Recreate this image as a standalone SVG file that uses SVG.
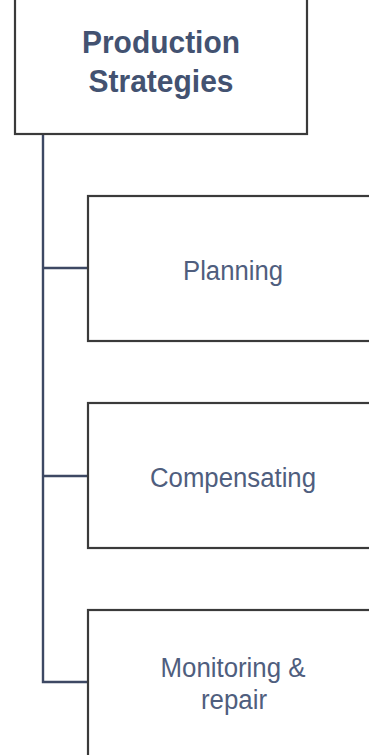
<svg xmlns="http://www.w3.org/2000/svg" width="369" height="755" viewBox="0 0 369 755">
<style>
.box{fill:#fff;stroke:#3a3a3a;stroke-width:2.2}
.conn{fill:none;stroke:#3d4863;stroke-width:2.4}
.t{font-family:"Liberation Sans",Arial,sans-serif;fill:#4f5e7e;text-anchor:middle}
.b{font-weight:bold;fill:#435271}
</style>
<rect width="369" height="755" fill="#fff"/>
<g id="connectors">
<path class="conn" d="M43,134 V682 H88"/>
<path class="conn" d="M43,268 H88"/>
<path class="conn" d="M43,476 H88"/>
</g>
<g id="root">
<rect class="box" x="15" y="-10" width="292" height="144"/>
<text class="t b" x="161" y="53" font-size="31" textLength="158" lengthAdjust="spacingAndGlyphs">Production</text>
<text class="t b" x="161" y="92" font-size="31" textLength="145" lengthAdjust="spacingAndGlyphs">Strategies</text>
</g>
<g id="planning">
<rect class="box" x="88" y="196" width="300" height="145"/>
<text class="t" x="233" y="280" font-size="27" textLength="100" lengthAdjust="spacingAndGlyphs">Planning</text>
</g>
<g id="compensating">
<rect class="box" x="88" y="403" width="300" height="145"/>
<text class="t" x="233" y="487" font-size="27" textLength="166" lengthAdjust="spacingAndGlyphs">Compensating</text>
</g>
<g id="monitoring">
<rect class="box" x="88" y="610" width="300" height="160"/>
<text class="t" x="233" y="677" font-size="27" textLength="145" lengthAdjust="spacingAndGlyphs">Monitoring &amp;</text>
<text class="t" x="234" y="709" font-size="27" textLength="66" lengthAdjust="spacingAndGlyphs">repair</text>
</g>
</svg>
